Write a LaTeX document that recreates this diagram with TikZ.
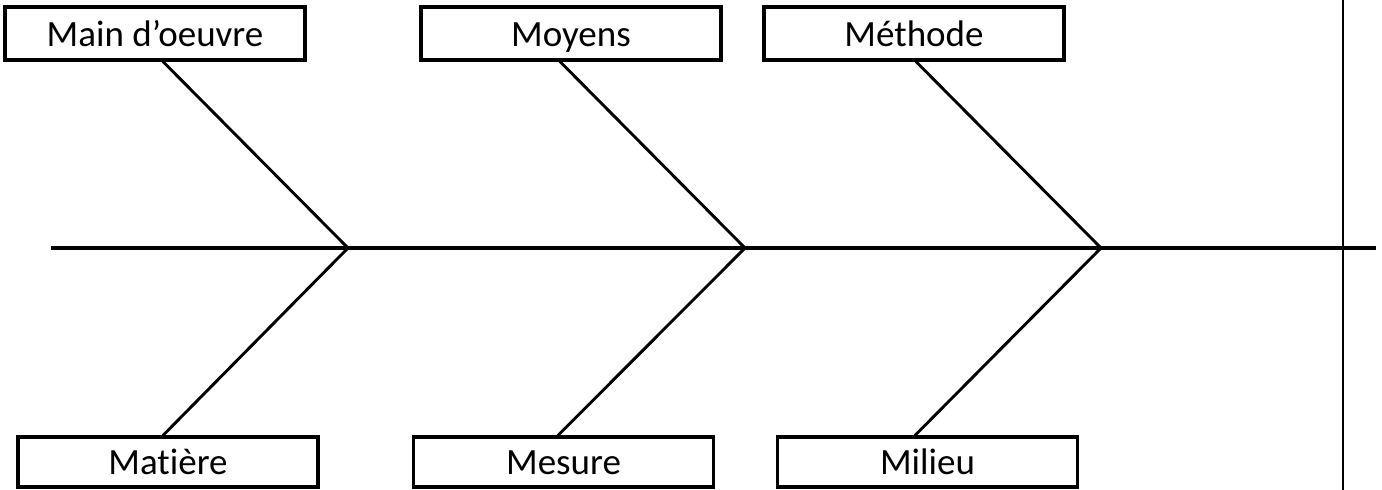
\documentclass[tikz,border=0pt]{standalone}
\usepackage{fontspec}
\setmainfont[Ligatures={NoCommon}]{Carlito}
\begin{document}
\begin{tikzpicture}[x=1pt,y=-1pt,
  catbox/.style={draw=black,line width=3.2pt,minimum width=300pt,minimum height=53pt,inner sep=0pt,
    text height=30pt,text depth=5pt,font=\fontsize{37}{40}\selectfont},
  lowbox/.style={catbox,minimum height=50pt},
  bone/.style={line width=2.9pt,line cap=round},
  spine/.style={line width=3.2pt}]
\useasboundingbox (0,0) rectangle (1382,490);
% junctions
\coordinate (j1) at (348,248);
\coordinate (j2) at (745,248);
\coordinate (j3) at (1101,248);
\coordinate (sl) at (51,248);
\coordinate (sr) at (1376,248);
\coordinate (vt) at (1343,-2);
\coordinate (vb) at (1343,492);
% boxes
\node[catbox] (mo) at (155,33.5) {Main d’oeuvre};
\node[catbox] (my) at (571,33.5) {Moyens};
\node[catbox] (me) at (914,33.5) {Méthode};
\node[lowbox] (ma) at (168,462) {Matière};
\node[lowbox] (ms) at (563.5,462) {Mesure};
\node[lowbox] (mi) at (927.5,462) {Milieu};
% spine and limit
\draw[spine] (sl) -- (sr);
\draw[line width=2.9pt] (vt) -- (vb);
% bones
\coordinate (b1) at (163,0);
\coordinate (b2) at (560,0);
\coordinate (b3) at (916,0);
\coordinate (b4) at (163,0);
\coordinate (b5) at (558,0);
\coordinate (b6) at (915,0);
\draw[bone] (mo.south -| b1) -- (j1);
\draw[bone] (my.south -| b2) -- (j2);
\draw[bone] (me.south -| b3) -- (j3);
\draw[bone] (ma.north -| b4) -- (j1);
\draw[bone] (ms.north -| b5) -- (j2);
\draw[bone] (mi.north -| b6) -- (j3);
\end{tikzpicture}
\end{document}
